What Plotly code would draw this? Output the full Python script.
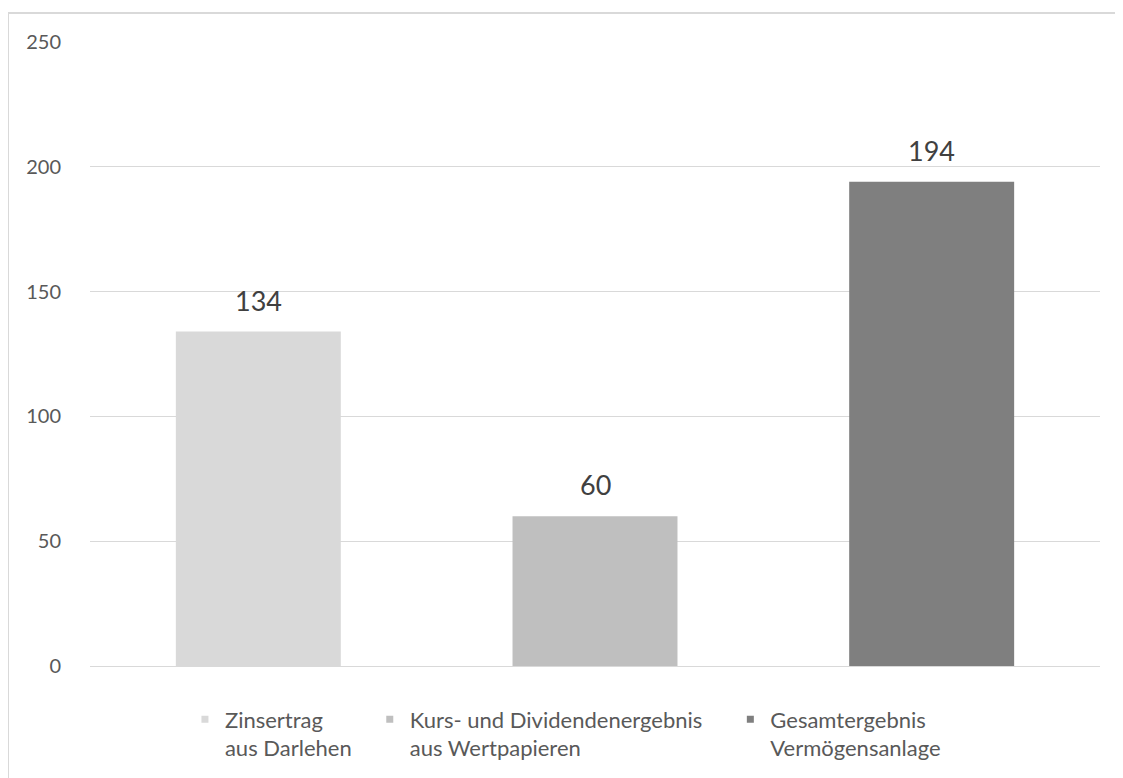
import plotly.graph_objects as go

categories = ["Zinsertrag<br>aus Darlehen", "Kurs- und Dividendenergebnis<br>aus Wertpapieren", "Gesamtergebnis<br>Vermögensanlage"]
values = [134, 60, 194]
colors = ["#d9d9d9", "#bfbfbf", "#7f7f7f"]
y_ticks = [0, 50, 100, 150, 200, 250]

FONT = "Lato, Carlito, sans-serif"
legend_ids = ["legend", "legend2", "legend3"]
legend_x = [0.094, 0.277, 0.634]

fig = go.Figure()
for c, v, col, lid in zip(categories, values, colors, legend_ids):
    fig.add_trace(go.Bar(x=[c], y=[v], name=c, marker=dict(color=col, line=dict(width=0)),
                         width=0.49, showlegend=False))
    fig.add_trace(go.Scatter(x=[None], y=[None], mode="markers", name=c, legend=lid,
                             marker=dict(symbol="square", size=7, color=col), showlegend=True))

for c, v in zip(categories, values):
    fig.add_annotation(x=c, y=v, text=str(v), showarrow=False, yanchor="bottom", yshift=13,
                       font=dict(family=FONT, size=27, color="#404040"))

fig.add_shape(type="rect", xref="paper", yref="paper", x0=-0.0812, x1=1.2, y0=-0.3, y1=1.0465,
              line=dict(color="#d9d9d9", width=2), fillcolor="rgba(0,0,0,0)", layer="below")

legend_common = dict(orientation="h", xanchor="left", y=-0.052, yanchor="top",
                     font=dict(family=FONT, size=22, color="#595959"), itemwidth=30,
                     valign="top", bgcolor="rgba(0,0,0,0)")

fig.update_layout(
    width=1123, height=778,
    margin=dict(l=82, r=31, t=34, b=120),
    paper_bgcolor="white", plot_bgcolor="white",
    barmode="overlay",
    font=dict(family=FONT, size=20, color="#595959"),
    legend=dict(x=legend_x[0], **legend_common),
    legend2=dict(x=legend_x[1], **legend_common),
    legend3=dict(x=legend_x[2], **legend_common),
    xaxis=dict(showticklabels=False, showgrid=False, zeroline=False, showline=False, ticks=""),
    yaxis=dict(range=[0, 250], tickvals=y_ticks, showgrid=True, gridcolor="#d9d9d9", gridwidth=1,
               zeroline=True, zerolinecolor="#d9d9d9", zerolinewidth=1, showline=False,
               ticklabelstandoff=28, tickfont=dict(family=FONT, size=20, color="#595959")),
)

fig.write_html("out.html")
